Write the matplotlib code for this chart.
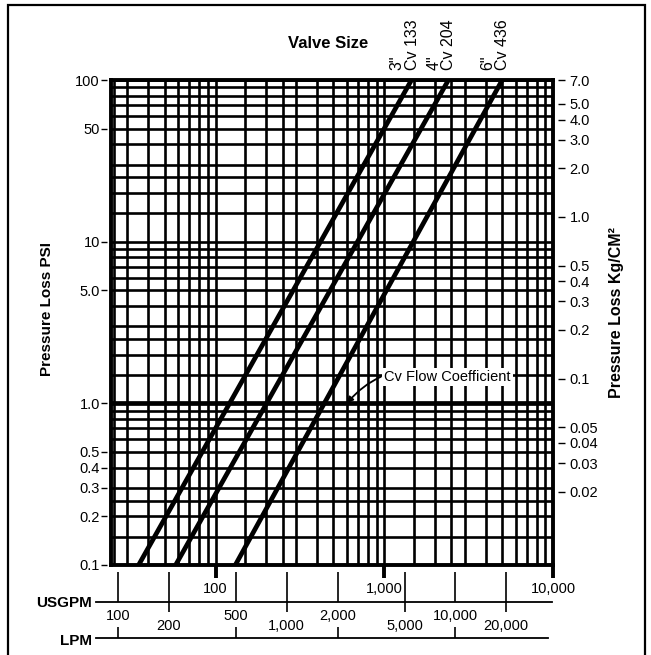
import matplotlib.pyplot as plt
from matplotlib.ticker import FixedLocator, LogLocator, NullFormatter, NullLocator
from matplotlib.patches import Rectangle

plt.rcParams['font.family'] = ['Liberation Sans', 'DejaVu Sans']

# valve lines (flow in USGPM at 0.1 psi and at 100 psi)
valve_sizes = ['3"', '4"', '6"']
valve_cv = [133, 204, 436]
psi_ends = [0.1, 100]
gpm_at_low = [35, 58, 131]
gpm_at_high = [1450, 2400, 5000]

# axis scales
psi_ticks = [100, 50, 10, 5, 1, 0.5, 0.4, 0.3, 0.2, 0.1]
psi_labels = ['100', '50', '10', '5.0', '1.0', '0.5', '0.4', '0.3', '0.2', '0.1']
kg_ticks = [7.0, 5.0, 4.0, 3.0, 2.0, 1.0, 0.5, 0.4, 0.3, 0.2, 0.1, 0.05, 0.04, 0.03, 0.02]
kg_labels = ['7.0', '5.0', '4.0', '3.0', '2.0', '1.0', '0.5', '0.4', '0.3', '0.2',
             '0.1', '0.05', '0.04', '0.03', '0.02']
gpm_ticks = [100, 1000, 10000]
lpm_upper = [100, 500, 2000, 10000]   # labels above the LPM line
lpm_lower = [200, 1000, 5000, 20000]  # labels further down
grid_subs = [1, 1.5, 2, 2.5, 3, 4, 5, 6, 7, 8, 9]

gpm_range = (24, 10000)
psi_range = (0.1, 100)
PSI_PER_KG = 14.223
LPM_PER_GPM = 3.785

W, H = 651, 655
fig = plt.figure(figsize=(W / 100, H / 100), dpi=100)

ax = fig.add_axes([111 / W, 1 - 565 / H, 442 / W, 485 / H])
ax.set_xscale('log')
ax.set_yscale('log')
ax.set_xlim(gpm_range)
ax.set_ylim(psi_range)

ax.xaxis.set_major_locator(FixedLocator(gpm_ticks))
ax.set_xticks(gpm_ticks, labels=[f'{v:,}' for v in gpm_ticks])
ax.xaxis.set_minor_locator(LogLocator(10, subs=grid_subs, numticks=60))
ax.xaxis.set_minor_formatter(NullFormatter())
ax.yaxis.set_major_locator(LogLocator(10, subs=grid_subs, numticks=60))
ax.yaxis.set_major_formatter(NullFormatter())
ax.yaxis.set_minor_locator(NullLocator())
ax.tick_params(axis='x', which='major', length=9.5, width=2.8, pad=2.5, labelsize=10.5)
ax.tick_params(axis='x', which='minor', length=0)
ax.tick_params(axis='y', length=0)
ax.grid(True, which='both', color='black', lw=1.9)
for s in ax.spines.values():
    s.set_linewidth(2.8)

ax.axhline(1.0, color='black', lw=3.4)

for size, cv, lo, hi in zip(valve_sizes, valve_cv, gpm_at_low, gpm_at_high):
    ax.plot([lo, hi], psi_ends, color='black', lw=3.4, solid_capstyle='butt', zorder=3)
    ax.annotate(f'{size}\nCv {cv}', xy=(hi, psi_ends[1]), xytext=(-5, 7),
                textcoords='offset points', rotation=90, ha='center', va='bottom',
                multialignment='left', fontsize=11.5, linespacing=1.0,
                annotation_clip=False)

ax.annotate('Cv Flow Coefficient', xy=(600, 1.0), xytext=(1000, 1.45),
            ha='left', va='center', fontsize=10.5, zorder=4,
            bbox=dict(boxstyle='square,pad=0.15', fc='white', ec='none'),
            arrowprops=dict(arrowstyle='-|>', color='black', lw=1.3, mutation_scale=9,
                            connectionstyle='arc3,rad=0.35', shrinkA=1, shrinkB=0))

# left psi scale, ticks set slightly off the frame
sec_l = ax.secondary_yaxis(-0.008)
sec_l.set_yticks(psi_ticks, labels=psi_labels)
sec_l.yaxis.set_minor_locator(NullLocator())
sec_l.tick_params(length=4, width=1, pad=1.5, labelsize=10.5)
for s in sec_l.spines.values():
    s.set_visible(False)

# right kg/cm2 scale
sec_r = ax.secondary_yaxis(1.012, functions=(lambda p: p / PSI_PER_KG,
                                              lambda k: k * PSI_PER_KG))
sec_r.set_yticks(kg_ticks, labels=kg_labels)
sec_r.yaxis.set_minor_locator(NullLocator())
sec_r.tick_params(length=5, width=1, pad=3, labelsize=10.5)
for s in sec_r.spines.values():
    s.set_visible(False)

# USGPM / LPM conversion scale under the chart
ax_lpm = fig.add_axes([111 / W, 1 - 638 / H, 442 / W, 66 / H])
ax_lpm.set_xscale('log')
ax_lpm.set_xlim(gpm_range[0] * LPM_PER_GPM, gpm_range[1] * LPM_PER_GPM)
ax_lpm.set_ylim(0, 1)
ax_lpm.axis('off')
ax_lpm.axhline(0.545, xmin=-0.034, xmax=0.998, color='black', lw=1.3, clip_on=False)
ax_lpm.axhline(0.0, xmin=-0.034, xmax=0.989, color='black', lw=1.3, clip_on=False)
ax_lpm.vlines(lpm_upper, 0.545, 1.0, color='black', lw=1.2)
ax_lpm.vlines(lpm_upper, 0.0, 0.167, color='black', lw=1.2)
ax_lpm.vlines(lpm_lower, 0.394, 1.0, color='black', lw=1.2)
for v in lpm_upper:
    ax_lpm.text(v, 0.333, f'{v:,}', ha='center', va='center', fontsize=10.5)
for v in lpm_lower:
    ax_lpm.text(v, 0.18, f'{v:,}', ha='center', va='center', fontsize=10.5)

fig.text(328 / W, 1 - 44 / H, 'Valve Size', ha='center', va='center',
         fontsize=12, fontweight='bold')
fig.text(47 / W, 1 - 309 / H, 'Pressure Loss PSI', rotation=90, ha='center',
         va='center', fontsize=11, fontweight='bold')
fig.text(617 / W, 1 - 312 / H, 'Pressure Loss Kg/CM²', rotation=90, ha='center',
         va='center', fontsize=11.5, fontweight='bold')
fig.text(92 / W, 1 - 603 / H, 'USGPM', ha='right', va='center', fontsize=11,
         fontweight='bold')
fig.text(92 / W, 1 - 641 / H, 'LPM', ha='right', va='center', fontsize=11,
         fontweight='bold')

fig.patches.append(Rectangle((8 / W, -0.05), 637 / W, 1.05 - 5 / H, transform=fig.transFigure,
                             fill=False, ec='black', lw=1.6))

fig.savefig('out.png', dpi=100)
